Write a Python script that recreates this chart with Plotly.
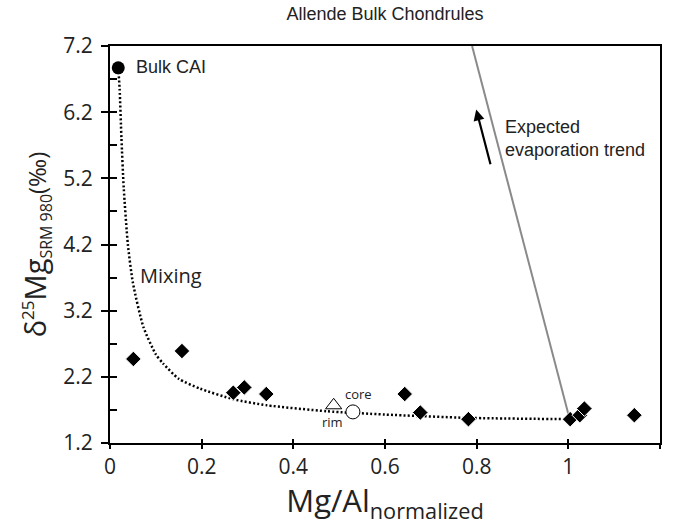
import plotly.graph_objects as go

# ---- data ----
chond_x = [0.051, 0.157, 0.269, 0.293, 0.341, 0.643, 0.677, 0.782, 1.004, 1.025, 1.035, 1.144]
chond_y = [2.47, 2.59, 1.96, 2.04, 1.94, 1.94, 1.66, 1.56, 1.56, 1.62, 1.72, 1.62]

cai_x = [0.018]
cai_y = [6.87]

rim_x = [0.488]
rim_y = [1.77]
core_x = [0.530]
core_y = [1.67]

mix_x = [0.018, 0.021, 0.025, 0.030, 0.039, 0.050, 0.073, 0.100, 0.116, 0.150, 0.197, 0.270, 0.342, 0.473, 0.600, 0.780, 1.000]
mix_y = [6.87, 6.55, 5.80, 5.05, 4.20, 3.62, 2.95, 2.54, 2.40, 2.17, 2.02, 1.86, 1.77, 1.68, 1.63, 1.58, 1.56]

trend_x = [1.003, 0.790]
trend_y = [1.56, 7.20]

x_ticks = [0, 0.2, 0.4, 0.6, 0.8, 1.0, 1.2]
x_ticktext = ["0", "0.2", "0.4", "0.6", "0.8", "1", "1.2"]
y_ticks = [1.2, 2.2, 3.2, 4.2, 5.2, 6.2, 7.2]
y_ticktext = ["1.2", "2.2", "3.2", "4.2", "5.2", "6.2", "7.2"]
y_minor = [1.7, 2.7, 3.7, 4.7, 5.7, 6.7]

TICKFONT = "Open Sans"
HELV = "Liberation Sans"

fig = go.Figure()

fig.add_trace(go.Scatter(x=trend_x, y=trend_y, mode="lines",
                         line=dict(color="#8a8a8a", width=2), hoverinfo="skip"))
fig.add_trace(go.Scatter(x=mix_x, y=mix_y, mode="lines",
                         line=dict(color="black", width=2.5, dash="2px,2.2px", shape="spline", smoothing=0.6),
                         hoverinfo="skip"))
fig.add_trace(go.Scatter(x=chond_x, y=chond_y, mode="markers",
                         marker=dict(symbol="diamond", size=12, color="black",
                                     line=dict(color="white", width=1))))
fig.add_trace(go.Scatter(x=cai_x, y=cai_y, mode="markers",
                         marker=dict(symbol="circle", size=13, color="black")))
fig.add_trace(go.Scatter(x=rim_x, y=rim_y, mode="markers",
                         marker=dict(symbol="triangle-up", size=14, color="white",
                                     line=dict(color="black", width=1))))
fig.add_trace(go.Scatter(x=core_x, y=core_y, mode="markers",
                         marker=dict(symbol="circle", size=14, color="white",
                                     line=dict(color="black", width=1))))

common = dict(showgrid=False, zeroline=False)

fig.update_layout(
    width=674, height=525,
    margin=dict(l=110, r=14, t=46, b=82),
    plot_bgcolor="white", paper_bgcolor="white",
    showlegend=False,
    font=dict(family=TICKFONT, color="black"),
    title=dict(text="Allende Bulk Chondrules", x=0.5713, xanchor="center",
               y=1 - 14 / 525, yanchor="middle", yref="container",
               font=dict(family=HELV, size=18, color="#222")),
    xaxis=dict(range=[0, 1.2], tickvals=x_ticks, ticktext=x_ticktext,
               ticks="outside", ticklen=4, tickwidth=2, tickcolor="black",
               showline=True, linewidth=2, linecolor="black", mirror=True,
               tickfont=dict(size=21, family=TICKFONT, color="#222"),
               title=dict(text="Mg/Al<sub>normalized</sub>", standoff=8,
                          font=dict(size=31, family=TICKFONT, color="#222")),
               **common),
    yaxis=dict(range=[1.2, 7.2], tickvals=y_ticks, ticktext=y_ticktext,
               ticks="outside", ticklen=7, tickwidth=2, tickcolor="black",
               ticklabelstandoff=4,
               showline=True, linewidth=2, linecolor="black", mirror=True,
               tickfont=dict(size=21, family=TICKFONT, color="#222"),
               title=dict(text="δ<sup><span style='font-size:17px'>25</span></sup>Mg"
                               "<sub><span style='font-size:16px'>SRM 980</span></sub>"
                               "<span style='font-size:24px'>(‰)</span>",
                          standoff=8,
                          font=dict(size=29, family=TICKFONT, color="#222")),
               **common),
    xaxis2=dict(range=[0, 1.2], tickvals=x_ticks, overlaying="x", anchor="y", side="bottom",
                ticks="inside", ticklen=4, tickwidth=2, tickcolor="black",
                showticklabels=False, showline=False, **common),
    yaxis2=dict(range=[1.2, 7.2], tickvals=y_ticks + y_minor, overlaying="y", anchor="x", side="left",
                ticks="inside", ticklen=7, tickwidth=2, tickcolor="black",
                showticklabels=False, showline=False, **common),
)

# invisible helper trace so the overlay tick axes are drawn
fig.add_trace(go.Scatter(x=[None], y=[None], xaxis="x2", yaxis="y2", mode="markers",
                         hoverinfo="skip"))

fig.add_annotation(x=0.052, y=6.88, text="Bulk CAI", showarrow=False, xanchor="left",
                   yanchor="middle", font=dict(family=HELV, size=18, color="#222"))
fig.add_annotation(x=0.061, y=3.73, text="Mixing", showarrow=False, xanchor="left",
                   yanchor="middle", font=dict(family=TICKFONT, size=20, color="#222"))
fig.add_annotation(x=0.542, y=1.94, text="core", showarrow=False, xanchor="center",
                   yanchor="middle", font=dict(family=TICKFONT, size=13, color="#222"))
fig.add_annotation(x=0.486, y=1.51, text="rim", showarrow=False, xanchor="center",
                   yanchor="middle", font=dict(family=TICKFONT, size=13, color="#222"))
fig.add_annotation(x=0.858, y=5.80, text="Expected<br>evaporation trend", showarrow=False,
                   xanchor="left", yanchor="middle", align="left",
                   font=dict(family=HELV, size=18, color="#222"))
fig.add_annotation(x=0.799, y=6.24, ax=0.831, ay=5.39, axref="x", ayref="y",
                   text="", showarrow=True, arrowhead=2, arrowsize=1, arrowwidth=2.2,
                   arrowcolor="black")

fig.write_html("out.html")
